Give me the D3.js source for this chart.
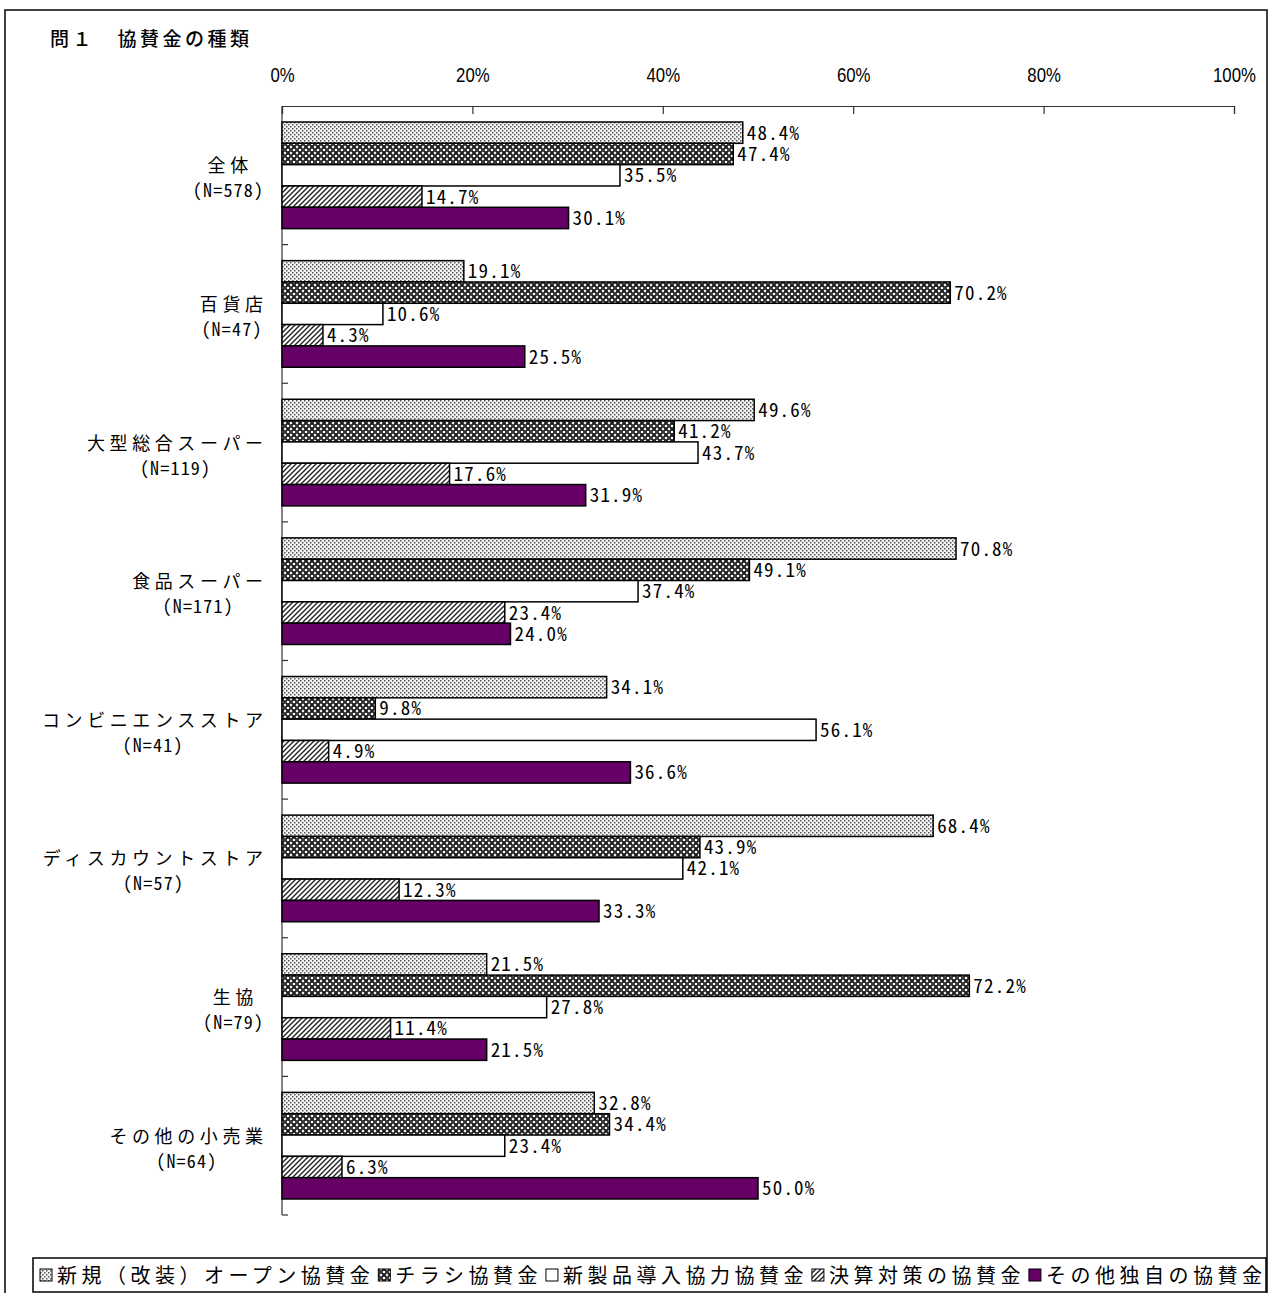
<!DOCTYPE html>
<html lang="ja">
<head>
<meta charset="utf-8">
<script src="https://cdn.jsdelivr.net/npm/d3@7"></script>
<style>
  html, body { margin: 0; padding: 0; background: #fff; }
  svg { display: block; }
  .jp { font-family: "Noto Sans CJK JP", "Noto Sans", sans-serif; }
  .mono { font-family: "Noto Sans Mono CJK JP", "DejaVu Sans Mono", monospace; }
  .narrow { font-family: "Liberation Sans Narrow", "Liberation Sans", Arial, sans-serif; }
</style>
</head>
<body>
<svg id="chart" width="1268" height="1293"></svg>
<script>
// 小売業態別：協賛金の種類（複数回答、%）
const categories = ["全体", "百貨店", "大型総合スーパー", "食品スーパー", "コンビニエンスストア", "ディスカウントストア", "生協", "その他の小売業"];
const sampleSizes = [578, 47, 119, 171, 41, 57, 79, 64];
const seriesNames = ["新規（改装）オープン協賛金", "チラシ協賛金", "新製品導入協力協賛金", "決算対策の協賛金", "その他独自の協賛金"];

const openingValues   = [48.4, 19.1, 49.6, 70.8, 34.1, 68.4, 21.5, 32.8];
const flyerValues     = [47.4, 70.2, 41.2, 49.1,  9.8, 43.9, 72.2, 34.4];
const newProductValues= [35.5, 10.6, 43.7, 37.4, 56.1, 42.1, 27.8, 23.4];
const settlementValues= [14.7,  4.3, 17.6, 23.4,  4.9, 12.3, 11.4,  6.3];
const otherValues     = [30.1, 25.5, 31.9, 24.0, 36.6, 33.3, 21.5, 50.0];
const seriesValues = [openingValues, flyerValues, newProductValues, settlementValues, otherValues];

const tickValues = [0, 20, 40, 60, 80, 100];

const svg = d3.select("#chart");
const defs = svg.append("defs");

// fill patterns for the five series
const pDot = defs.append("pattern").attr("id", "pat0").attr("patternUnits", "userSpaceOnUse")
  .attr("width", 4).attr("height", 4);
pDot.append("rect").attr("width", 4).attr("height", 4).attr("fill", "#f4f4f4");
pDot.append("rect").attr("x", 0).attr("y", 0).attr("width", 1.5).attr("height", 1.5).attr("fill", "#555");
pDot.append("rect").attr("x", 2).attr("y", 2).attr("width", 1.5).attr("height", 1.5).attr("fill", "#555");

const pCheck = defs.append("pattern").attr("id", "pat1").attr("patternUnits", "userSpaceOnUse")
  .attr("width", 6).attr("height", 6);
pCheck.append("rect").attr("width", 6).attr("height", 6).attr("fill", "#1e1e1e");
[[0, 0], [6, 0], [0, 6], [6, 6], [3, 3]].forEach(([cx, cy]) =>
  pCheck.append("circle").attr("cx", cx).attr("cy", cy).attr("r", 1.3).attr("fill", "#fff"));
pCheck.append("rect").attr("x", 2.6).attr("y", 0).attr("width", 0.8).attr("height", 6).attr("fill", "#999").attr("opacity", 0.5);

const pHatch = defs.append("pattern").attr("id", "pat3").attr("patternUnits", "userSpaceOnUse")
  .attr("width", 5).attr("height", 5);
pHatch.append("rect").attr("width", 5).attr("height", 5).attr("fill", "#fff");
pHatch.append("path").attr("d", "M-1,6 L6,-1 M-1,1 L1,-1 M4,6 L6,4").attr("stroke", "#222").attr("stroke-width", 1.4);

const fills = ["url(#pat0)", "url(#pat1)", "#ffffff", "url(#pat3)", "#660066"];

// outer frame
svg.append("rect").attr("x", 5).attr("y", 10).attr("width", 1262).attr("height", 1300)
  .attr("fill", "none").attr("stroke", "#000").attr("stroke-width", 1.5);

// title
svg.append("text").attr("class", "jp").attr("x", 50).attr("y", 46)
  .attr("font-size", 19).attr("font-weight", 500).attr("letter-spacing", 3.5).attr("fill", "#000")
  .text("問１　協賛金の種類");

// scales
const x = d3.scaleLinear().domain([0, 100]).range([282, 1234]);
const y = d3.scaleBand().domain(categories).range([106, 1215]).paddingInner(0.231).paddingOuter(0.1155);
const ySub = d3.scaleBand().domain(d3.range(seriesNames.length)).range([0, y.bandwidth()]);

// top axis
const xAxis = d3.axisTop(x).tickValues(tickValues).tickSize(-8).tickFormat(d => d + "%").tickPadding(24);
const gx = svg.append("g").attr("transform", `translate(0,106)`).call(xAxis);
gx.select(".domain").attr("stroke", "#333").attr("stroke-width", 1.2);
gx.selectAll(".tick line").attr("stroke", "#333").attr("stroke-width", 1.2);
gx.selectAll(".tick text").attr("class", "narrow").attr("font-size", 20).attr("fill", "#000")
  .attr("transform", "scale(0.84,1)");

// left axis line with inside ticks at category boundaries
svg.append("line").attr("x1", x(0)).attr("x2", x(0)).attr("y1", 106).attr("y2", 1215)
  .attr("stroke", "#333").attr("stroke-width", 1.2);
const boundaries = categories.map((c, i) => y.range()[0] + y.step() * (i + 1));
svg.append("g").selectAll("line").data(boundaries).join("line")
  .attr("x1", x(0)).attr("x2", x(0) + 6).attr("y1", d => d).attr("y2", d => d)
  .attr("stroke", "#333").attr("stroke-width", 1.2);

// bars
const rows = [];
categories.forEach((c, ci) => {
  seriesValues.forEach((vals, si) => rows.push({ cat: c, s: si, v: vals[ci] }));
});

const bars = svg.append("g");
bars.selectAll("rect").data(rows).join("rect")
  .attr("x", x(0))
  .attr("y", d => y(d.cat) + ySub(d.s))
  .attr("width", d => x(d.v) - x(0))
  .attr("height", ySub.bandwidth())
  .attr("fill", d => fills[d.s])
  .attr("stroke", "#000").attr("stroke-width", 1.5);

// value labels
svg.append("g").selectAll("text").data(rows).join("text")
  .attr("class", "mono")
  .attr("x", d => x(d.v) + 4)
  .attr("y", d => y(d.cat) + ySub(d.s) + ySub.bandwidth() / 2 + 7)
  .attr("font-size", 19).attr("letter-spacing", 1.2).attr("fill", "#000")
  .text(d => d3.format(".1f")(d.v) + "%");

// category labels: name line and sample size line, block right-aligned
const catG = svg.append("g");
categories.forEach((c, i) => {
  const cy = y(c) + y.bandwidth() / 2;
  const t1 = catG.append("text").attr("class", "jp").attr("font-size", 18)
    .attr("letter-spacing", 4.6).attr("fill", "#000").attr("text-anchor", "middle")
    .attr("y", cy - 3).text(c);
  const t2 = catG.append("text").attr("class", "mono").attr("font-size", 18)
    .attr("letter-spacing", 1.2).attr("fill", "#000").attr("text-anchor", "middle")
    .attr("y", cy + 22).text(`(N=${sampleSizes[i]})`);
  const w1 = t1.node().getComputedTextLength() - 4.6;
  const w2 = t2.node().getComputedTextLength() - 1.2;
  const w = Math.max(w1, w2);
  const center = 263 - w / 2;
  t1.attr("x", center + 2.3);
  t2.attr("x", center + 0.6);
});

// legend
svg.append("rect").attr("x", 33).attr("y", 1258).attr("width", 1233).attr("height", 34)
  .attr("fill", "#fff").attr("stroke", "#000").attr("stroke-width", 1.5);
const legG = svg.append("g");
let lx = 40;
seriesNames.forEach((name, i) => {
  legG.append("rect").attr("x", lx).attr("y", 1269).attr("width", 12).attr("height", 12)
    .attr("fill", fills[i]).attr("stroke", "#000").attr("stroke-width", 1);
  const t = legG.append("text").attr("class", "jp").attr("x", lx + 17).attr("y", 1283)
    .attr("font-size", 20).attr("letter-spacing", 4.5).attr("fill", "#000").text(name);
  lx += 17 + t.node().getComputedTextLength() + 4;
});
</script>
</body>
</html>
